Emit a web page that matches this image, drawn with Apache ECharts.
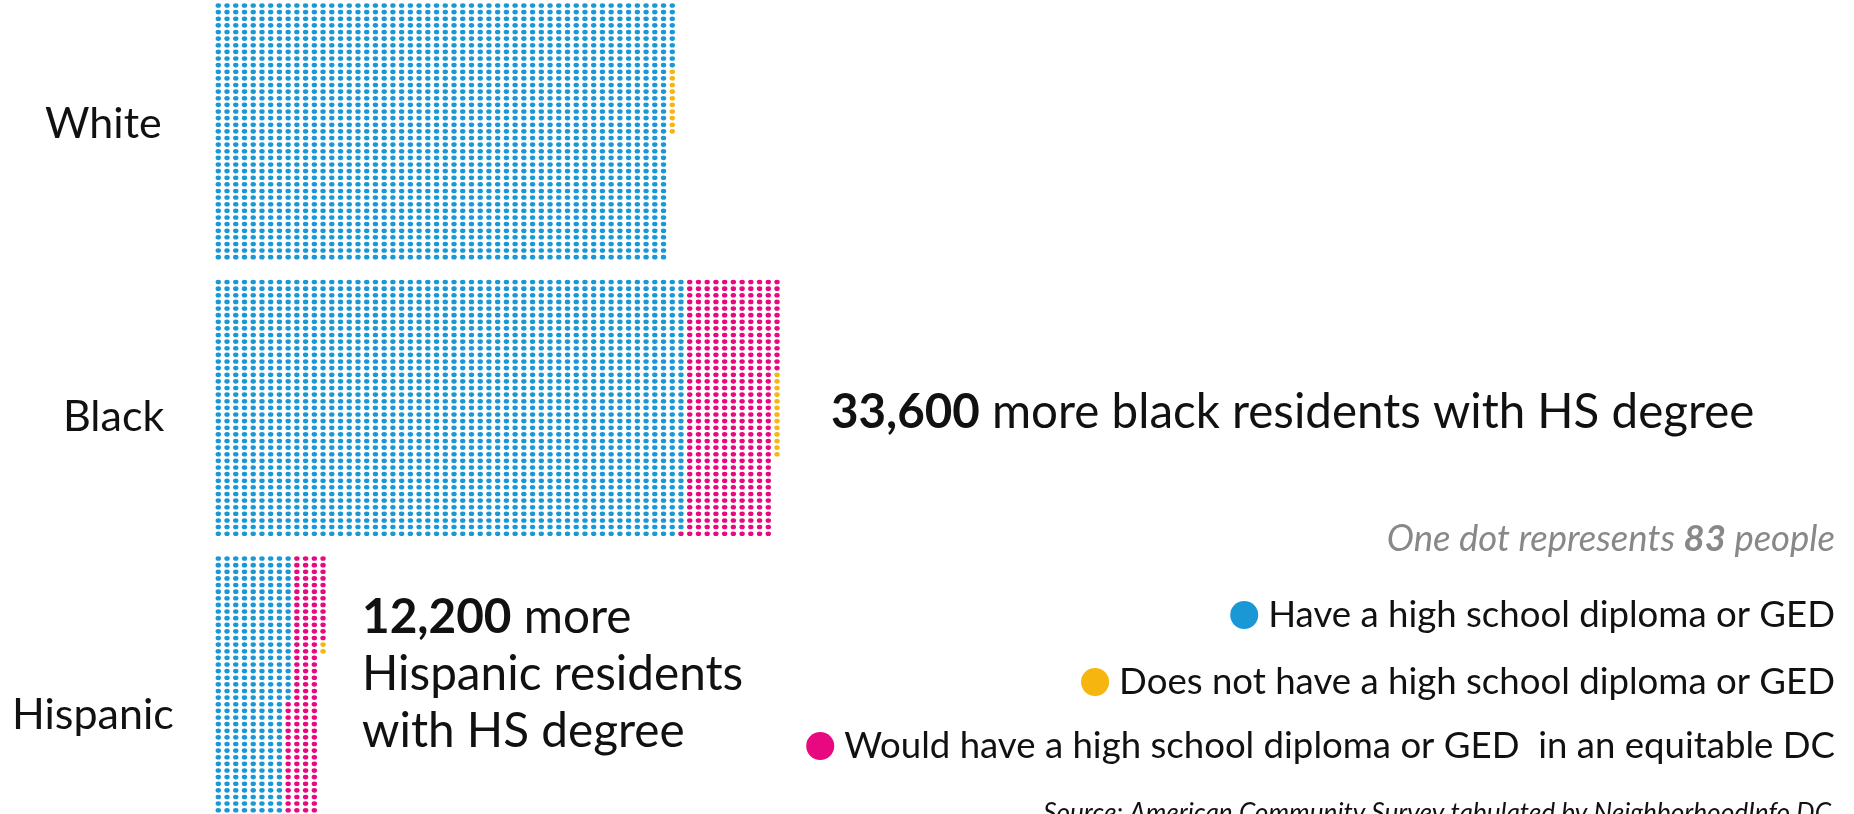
<!DOCTYPE html>
<html>
<head>
<meta charset="utf-8">
<script src="https://cdn.jsdelivr.net/npm/echarts@6/dist/echarts.min.js"></script>
<style>
html,body{margin:0;padding:0;background:#fff;}
#c{width:1854px;height:814px;}
</style>
</head>
<body>
<div id="c"></div>
<script>
// ---- data (one dot = 83 people) ----
const groups = ['White', 'Black', 'Hispanic'];
const haveDiploma = [2038, 2105, 334];   // dots
const wouldHave = [0, 405, 147];         // dots
const noDiploma = [10, 13, 2];           // dots
const seriesNames = [
  'Have a high school diploma or GED',
  'Would have a high school diploma or GED  in an equitable DC',
  'Does not have a high school diploma or GED'
];
const gapNotes = ['', '33,600', '12,200'];
const peoplePerDot = 83;

// ---- layout ----
const ROWS = 39;
const GROUP_STEP = 41.75;        // rows between group starts
const colors = ['#1a98d6', '#e8087f', '#f6b50f'];

const buckets = [[], [], []];
groups.forEach((g, gi) => {
  const counts = [haveDiploma[gi], wouldHave[gi], noDiploma[gi]];
  let idx = 0;
  counts.forEach((n, ci) => {
    for (let k = 0; k < n; k++, idx++) {
      const col = Math.floor(idx / ROWS);
      const row = idx % ROWS;
      buckets[ci].push([col, gi * GROUP_STEP + row]);
    }
  });
});

const colPitch = 8.73, rowPitch = 6.623;
const x0 = 218.3, y0 = 5.5;
const xMax = 64, yMax = 2 * GROUP_STEP + ROWS - 1;

const chart = echarts.init(document.getElementById('c'), null, {renderer: 'canvas'});
const legendText = {fontFamily: 'Lato', fontSize: 36.6, color: '#111', lineHeight: 40, padding: [0, 0, 0, 5]};
const legendBase = {right: 19, icon: 'circle', itemWidth: 28, itemHeight: 28, itemGap: 0, padding: 0, textStyle: legendText, selectedMode: false};
chart.setOption({
  animation: false,
  grid: {left: x0, top: y0, width: xMax * colPitch, height: yMax * rowPitch},
  xAxis: {type: 'value', min: 0, max: xMax, show: false},
  yAxis: {type: 'value', min: 0, max: yMax, inverse: true, show: false},
  legend: [
    Object.assign({data: [seriesNames[0]], top: 595}, legendBase),
    Object.assign({data: [seriesNames[2]], top: 662}, legendBase),
    Object.assign({data: [seriesNames[1]], top: 726}, legendBase)
  ],
  series: seriesNames.map((name, i) => ({
    name: name,
    type: 'scatter',
    data: buckets[i],
    symbol: 'circle',
    symbolSize: [5.4, 4.6],
    itemStyle: {color: colors[i], opacity: 1},
    silent: true
  })),
  graphic: [
    {type: 'text', x: 45, y: 124, style: {text: groups[0], font: '43px Lato', fill: '#111', verticalAlign: 'middle'}},
    {type: 'text', x: 63, y: 417, style: {text: groups[1], font: '43px Lato', fill: '#111', verticalAlign: 'middle'}},
    {type: 'text', x: 12, y: 715, style: {text: groups[2], font: '43px Lato', fill: '#111', verticalAlign: 'middle'}},
    {type: 'text', x: 831, y: 413, style: {
      text: '{b|' + gapNotes[1] + '} more black residents with HS degree',
      font: '47.5px Lato', fill: '#111', verticalAlign: 'middle',
      rich: {b: {font: 'bold 47.5px Lato', fill: '#111'}}
    }},
    {type: 'text', left: 362, top: 589, style: {
      text: '{b|' + gapNotes[2] + '} more\nHispanic residents\nwith HS degree',
      font: '47.7px Lato', fill: '#111', lineHeight: 57,
      rich: {b: {font: 'bold 47.7px Lato', fill: '#111', lineHeight: 57}}
    }},
    {type: 'text', x: 1835, y: 539, style: {
      text: 'One dot represents {b|' + peoplePerDot + '} people',
      font: 'italic 36.5px Lato', fill: '#888', align: 'right', verticalAlign: 'middle',
      rich: {b: {font: 'italic bold 36.5px Lato', fill: '#888'}}
    }},
    {type: 'text', x: 1831, y: 801, style: {
      text: 'Source: American Community Survey tabulated by NeighborhoodInfo DC',
      font: 'italic 26.2px Lato', fill: '#111', align: 'right'
    }}
  ]
});
</script>
</body>
</html>
